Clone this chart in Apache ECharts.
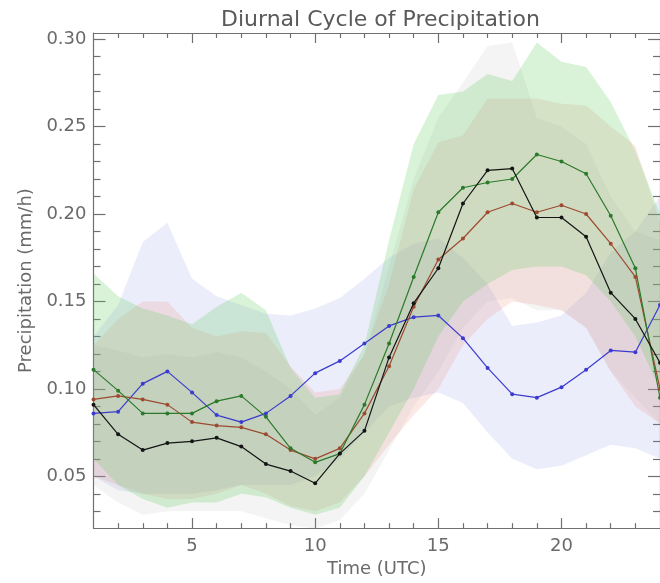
<!DOCTYPE html>
<html>
<head>
<meta charset="utf-8">
<script src="https://cdn.jsdelivr.net/npm/echarts@6/dist/echarts.min.js"></script>
<style>
html,body{margin:0;padding:0;background:#fff;}
#chart{width:660px;height:583px;}
</style>
</head>
<body>
<div id="chart"></div>
<script>
// ---- data ----
const hours = [1,2,3,4,5,6,7,8,9,10,11,12,13,14,15,16,17,18,19,20,21,22,23,24];

const blackLine = [0.091,0.074,0.065,0.069,0.070,0.072,0.067,0.057,0.053,0.046,0.063,0.076,0.118,0.149,0.169,0.206,0.225,0.226,0.198,0.198,0.187,0.155,0.140,0.115];
const redLine   = [0.094,0.096,0.094,0.091,0.081,0.079,0.078,0.074,0.065,0.060,0.066,0.086,0.113,0.147,0.174,0.186,0.201,0.206,0.201,0.205,0.200,0.183,0.164,0.100];
const greenLine = [0.111,0.099,0.086,0.086,0.086,0.093,0.096,0.084,0.066,0.058,0.063,0.091,0.126,0.164,0.201,0.215,0.218,0.220,0.234,0.230,0.223,0.199,0.169,0.095];
const blueLine  = [0.086,0.087,0.103,0.110,0.098,0.085,0.081,0.086,0.096,0.109,0.116,0.126,0.136,0.141,0.142,0.129,0.112,0.097,0.095,0.101,0.111,0.122,0.121,0.148];

const greenUpper = [0.166,0.153,0.146,0.142,0.137,0.147,0.155,0.145,0.112,0.095,0.097,0.125,0.185,0.240,0.268,0.270,0.280,0.276,0.298,0.287,0.284,0.264,0.236,0.200];
const greenLower = [0.060,0.045,0.037,0.032,0.035,0.035,0.040,0.038,0.032,0.028,0.032,0.050,0.075,0.100,0.130,0.150,0.160,0.168,0.170,0.170,0.165,0.150,0.130,0.100];

const redUpper = [0.125,0.140,0.150,0.150,0.135,0.130,0.133,0.132,0.113,0.098,0.100,0.120,0.160,0.214,0.241,0.245,0.266,0.266,0.266,0.263,0.262,0.250,0.239,0.195];
const redLower = [0.050,0.045,0.040,0.037,0.037,0.040,0.045,0.040,0.033,0.030,0.035,0.050,0.068,0.085,0.100,0.125,0.140,0.150,0.148,0.145,0.135,0.110,0.090,0.080];

const blueUpper = [0.130,0.148,0.184,0.195,0.163,0.153,0.148,0.143,0.142,0.146,0.152,0.163,0.175,0.183,0.186,0.175,0.160,0.136,0.138,0.142,0.155,0.178,0.190,0.210];
const blueLower = [0.050,0.042,0.040,0.040,0.040,0.042,0.045,0.045,0.045,0.050,0.060,0.075,0.090,0.095,0.098,0.092,0.075,0.060,0.054,0.056,0.062,0.068,0.066,0.060];

const greyUpper = [0.125,0.122,0.118,0.120,0.118,0.121,0.118,0.110,0.100,0.085,0.095,0.120,0.170,0.220,0.255,0.275,0.296,0.298,0.255,0.250,0.240,0.210,0.190,0.185];
const greyLower = [0.045,0.035,0.028,0.030,0.030,0.030,0.030,0.026,0.022,0.020,0.025,0.040,0.065,0.090,0.110,0.135,0.150,0.152,0.145,0.145,0.135,0.110,0.095,0.080];

const xMajorTicks = [5,10,15,20];
const xMinorTicks = [2,3,4,6,7,8,9,11,12,13,14,16,17,18,19,21,22,23];
const yMajorTicks = [0.05,0.10,0.15,0.20,0.25,0.30];
const yMinorTicks = [0.03,0.04,0.06,0.07,0.08,0.09,0.11,0.12,0.13,0.14,0.16,0.17,0.18,0.19,0.21,0.22,0.23,0.24,0.26,0.27,0.28,0.29];

// ---- build ----
const FONT = 'DejaVu Sans';
const TXT = '#6a6a6a';
const AX = '#707070';
const xMin = 1, xMax = 24, yMin = 0.0204, yMax = 0.3035;

function pairs(arr){ return hours.map((h,i)=>[h, arr[i]]); }

function band(name, lo, up, color, z){
  const data = hours.map((h,i)=>[h, lo[i], up[i]]);
  return {
    type:'custom', name:name, data:data, silent:true, z:z,
    encode:{x:0, y:[1,2]},
    renderItem:function(params, api){
      if (params.dataIndex !== 0) return null;
      const top = data.map(d=>api.coord([d[0], d[2]]));
      const bot = data.map(d=>api.coord([d[0], d[1]])).reverse();
      return {type:'polygon', shape:{points:top.concat(bot)},
        style:{fill:color, stroke:null}};
    }
  };
}
function line(name, arr, color, z){
  return {type:'line', name:name, data:pairs(arr), symbol:'circle', symbolSize:4,
    itemStyle:{color:color}, lineStyle:{color:color, width:1.2}, z:z};
}

function xAx(pos, ticks, len, labels, showLine, extra){
  return Object.assign({
    type:'value', position:pos, min:xMin, max:xMax, gridIndex:0,
    axisLine:{show:showLine, onZero:false, lineStyle:{color:AX, width:1.2}},
    axisTick:{show:true, inside:true, length:len, customValues:ticks, lineStyle:{color:AX, width:1.2}},
    axisLabel:labels ? {show:true, customValues:xMajorTicks, color:TXT, fontFamily:FONT, fontSize:18, margin:9} : {show:false},
    splitLine:{show:false}
  }, extra||{});
}
function yAx(pos, ticks, len, labels, showLine, extra){
  return Object.assign({
    type:'value', position:pos, min:yMin, max:yMax, gridIndex:0,
    axisLine:{show:showLine, onZero:false, lineStyle:{color:AX, width:1.2}},
    axisTick:{show:true, inside:true, length:len, customValues:ticks, lineStyle:{color:AX, width:1.2}},
    axisLabel:labels ? {show:true, customValues:yMajorTicks, color:TXT, fontFamily:FONT, fontSize:18, margin:7,
       formatter:v=>v.toFixed(2)} : {show:false},
    splitLine:{show:false}
  }, extra||{});
}

const chart = echarts.init(document.getElementById('chart'), null, {renderer:'canvas'});
chart.setOption({
  animation:false,
  backgroundColor:'#fff',
  title:{text:'Diurnal Cycle of Precipitation', left:216, top:4,
    textStyle:{fontFamily:FONT, fontSize:22, fontWeight:'normal', color:'#5a5a5a'}},
  grid:{left:93.5, right:-11.5, top:33, bottom:52.3},
  xAxis:[
    xAx('bottom', xMajorTicks, 10, true, true, {name:'Time (UTC)', nameLocation:'middle', nameGap:30,
      nameTextStyle:{fontFamily:FONT, fontSize:18, color:TXT}}),
    xAx('bottom', xMinorTicks, 5, false, false),
    xAx('top', xMajorTicks, 10, false, true),
    xAx('top', xMinorTicks, 5, false, false)
  ],
  yAxis:[
    yAx('left', yMajorTicks, 12, true, true, {name:'Precipitation (mm/h)', nameLocation:'middle', nameGap:57,
      nameTextStyle:{fontFamily:FONT, fontSize:18, color:TXT}}),
    yAx('left', yMinorTicks, 7, false, false),
    yAx('right', yMajorTicks, 12, false, true),
    yAx('right', yMinorTicks, 7, false, false)
  ],
  series:[
    band('blue', blueLower, blueUpper, 'rgba(120,130,225,0.14)', 1),
    band('red', redLower, redUpper, 'rgba(235,125,105,0.17)', 1),
    band('grey', greyLower, greyUpper, 'rgba(165,165,165,0.12)', 1),
    band('green', greenLower, greenUpper, 'rgba(95,205,95,0.24)', 1),
    line('blue', blueLine, '#3b3bd0', 5),
    line('red', redLine, '#9e4a30', 5),
    line('green', greenLine, '#2b7a2b', 5),
    line('black', blackLine, '#141414', 6)
  ]
});
</script>
</body>
</html>
